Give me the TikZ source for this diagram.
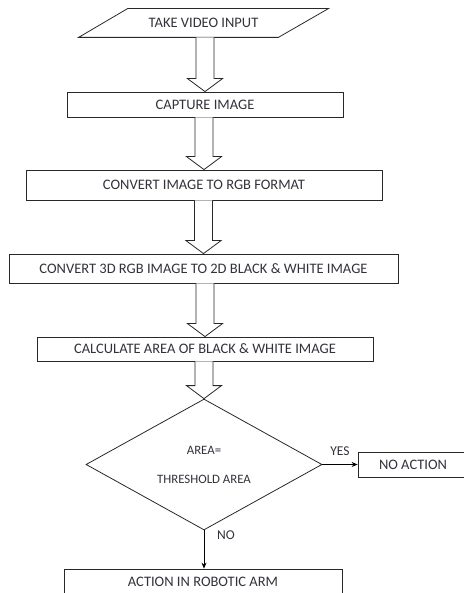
\documentclass[tikz,border=0pt]{standalone}
\usepackage{fontspec}
\setmainfont{Carlito}
\usetikzlibrary{shapes.geometric,calc,arrows.meta}
\definecolor{ln}{RGB}{40,40,40}
\definecolor{txt}{RGB}{50,50,60}
\tikzset{
  box/.style={draw=ln, line width=0.8pt, inner sep=0pt, text=txt,
    font=\fontsize{14.5}{17}\selectfont},
  barrow/.style={draw=ln, line width=0.8pt, fill=white, line join=miter},
  conn/.style={draw=black, line width=0.8pt, -{Stealth[length=6pt,width=5pt]}},
  lbl/.style={text=txt, inner sep=0pt, font=\fontsize{13.5}{15}\selectfont}
}
\newcommand\blockarrow[2]{%
  \draw[barrow] ($(#1.south -| #2.north)+(-9,0)$) -- ($(#2.north)+(-9,13)$)
    -- ($(#2.north)+(-17.5,13)$) -- (#2.north) -- ($(#2.north)+(17.5,13)$)
    -- ($(#2.north)+(9,13)$) -- ($(#1.south -| #2.north)+(9,0)$);}
\begin{document}
\begin{tikzpicture}[x=1pt,y=1pt]
\useasboundingbox (0,0) rectangle (463,593);
% input (parallelogram)
\node[box, draw=none, minimum width=249, minimum height=28] (in) at (203.5,570) {TAKE VIDEO INPUT};
\draw[draw=ln, line width=0.8pt] ($(in.north west)+(49,0)$) -- (in.north east)
  -- ($(in.south east)+(-50,0)$) -- (in.south west) -- cycle;
\node[box, minimum width=276, minimum height=25] (cap) at (205,488.5) {CAPTURE IMAGE};
\node[box, minimum width=356, minimum height=30] (rgb) at (204,408) {CONVERT IMAGE TO RGB FORMAT};
\node[box, minimum width=389, minimum height=29] (bw) at (203.5,324.5) {CONVERT 3D RGB IMAGE TO 2D BLACK \& WHITE IMAGE};
\node[box, minimum width=336, minimum height=24] (area) at (205,244) {CALCULATE AREA OF BLACK \& WHITE IMAGE};
\node[box, shape=diamond, minimum width=236, minimum height=99, align=center,
  font=\fontsize{12.8}{14}\selectfont] (dec) at (204,128.5) {AREA=\\[15pt]THRESHOLD AREA};
\node[box, minimum width=110, minimum height=25] (noact) at (413,128.5) {NO ACTION};
\node[box, minimum width=278, minimum height=26] (act) at (203,11) {ACTION IN ROBOTIC ARM};
% block arrows
\blockarrow{in}{cap}
\blockarrow{cap}{rgb}
\blockarrow{rgb}{bw}
\blockarrow{bw}{area}
\blockarrow{area}{dec}
% decision connectors
\draw[conn] (dec.east) -- (noact.west);
\draw[conn] (dec.south) -- (act.north -| dec.south);
\node[lbl] (yes) at (340,142) {YES};
\node[lbl] (no) at (226,58) {NO};
\end{tikzpicture}
\end{document}
